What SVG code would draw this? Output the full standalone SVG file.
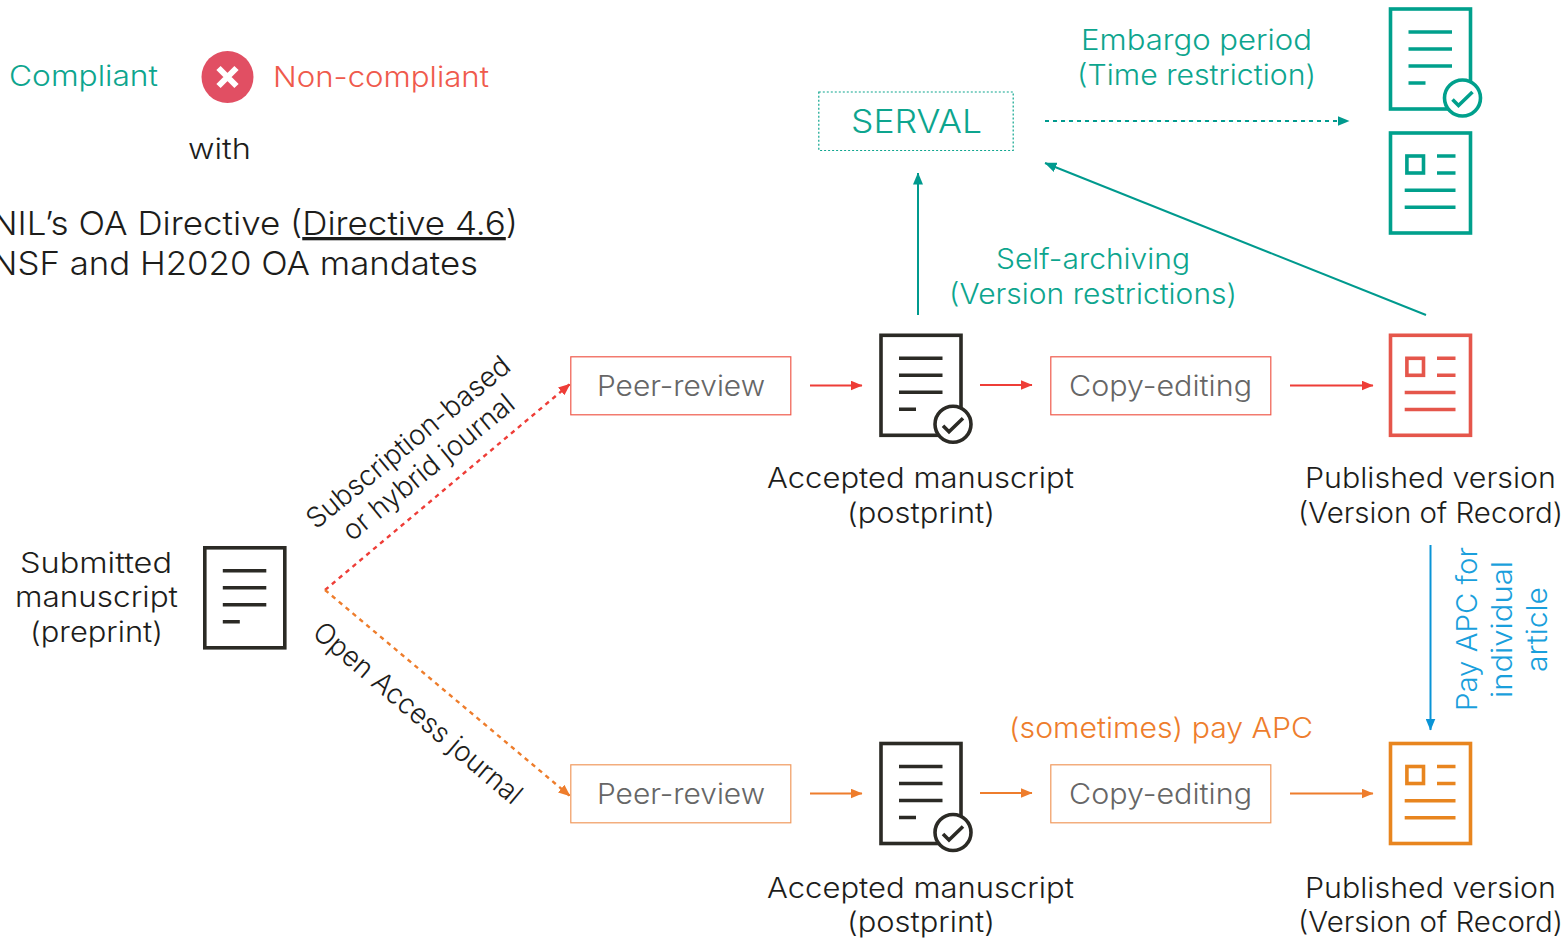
<svg xmlns="http://www.w3.org/2000/svg" width="1564" height="939" viewBox="0 0 1564 939">
<style>
text{font-family:Inter,"Open Sans","Liberation Sans",sans-serif;font-size:28px;font-weight:300;fill:#1d1d1b;text-anchor:start}
.big{font-size:33px}
.teal{fill:#0da58e}.red{fill:#ef5a4c}.orange{fill:#ee7d2c}.blue{fill:#1a9fdc}.gray{fill:#666}
.doc rect,.doc path,.doc circle{fill:none;stroke:currentColor;stroke-width:3.6}
.doc .bg{fill:#fff}
.box{fill:#fff;stroke-width:1.2}
.c{fill:none;stroke-width:2}
.d{stroke-width:2.4;stroke-dasharray:4.500 4.500}
</style>
<defs>
<g id="lines" class="doc"><rect width="80" height="100"/><path d="M18 23H61.500M18 40H61.500M18 57H61.500M18 74H35"/></g>
<g id="check" class="doc"><use href="#lines"/><circle class="bg" cx="72" cy="89" r="18"/><path d="M62 90.500L68 96.500L82 83"/></g>
<g id="article" class="doc"><rect width="80" height="100"/><rect x="16.400" y="23" width="16.600" height="17"/><path d="M46.500 23H65M46.500 40H65M14.200 57.200H65M14.200 74.200H65"/></g>
<marker id="mRed" markerUnits="userSpaceOnUse" markerWidth="12" markerHeight="10" refX="11.500" refY="5" orient="auto"><path d="M0 0L12 5L0 10z" fill="#ee3d37"/></marker>
<marker id="mOrange" markerUnits="userSpaceOnUse" markerWidth="12" markerHeight="10" refX="11.500" refY="5" orient="auto"><path d="M0 0L12 5L0 10z" fill="#ee7d2c"/></marker>
<marker id="mTeal" markerUnits="userSpaceOnUse" markerWidth="12" markerHeight="10" refX="11.500" refY="5" orient="auto"><path d="M0 0L12 5L0 10z" fill="#009a8e"/></marker>
<marker id="mBlue" markerUnits="userSpaceOnUse" markerWidth="12" markerHeight="10" refX="11.500" refY="5" orient="auto"><path d="M0 0L12 5L0 10z" fill="#0a94d6"/></marker>
</defs>

<g id="legend">
<text class="teal" x="9" y="86" textLength="149" lengthAdjust="spacingAndGlyphs">Compliant</text>
<circle cx="227.500" cy="77" r="26" fill="#e14f63"/>
<path d="M218.500 68L236.500 86M236.500 68L218.500 86" stroke="#fff" stroke-width="6" fill="none"/>
<text class="red" x="273" y="87" textLength="216" lengthAdjust="spacingAndGlyphs">Non-compliant</text>
<text x="188" y="159" textLength="63" lengthAdjust="spacingAndGlyphs">with</text>
<text class="big" x="-9" y="235" textLength="527" lengthAdjust="spacingAndGlyphs">NIL’s OA Directive (<tspan text-decoration="underline">Directive 4.6</tspan>)</text>
<text class="big" x="-9" y="275" textLength="487" lengthAdjust="spacingAndGlyphs">NSF and H2020 OA mandates</text>
</g>

<g id="connectors">
<path class="c" stroke="#ee3d37" d="M810 385.500H862" marker-end="url(#mRed)"/>
<path class="c" stroke="#ee3d37" d="M980 385H1032" marker-end="url(#mRed)"/>
<path class="c" stroke="#ee3d37" d="M1290 385.500H1373" marker-end="url(#mRed)"/>
<path class="c" stroke="#ee7d2c" d="M810 793.500H862" marker-end="url(#mOrange)"/>
<path class="c" stroke="#ee7d2c" d="M980 793H1032" marker-end="url(#mOrange)"/>
<path class="c" stroke="#ee7d2c" d="M1290 793.500H1373" marker-end="url(#mOrange)"/>
<path class="c d" stroke="#ee3d37" d="M325 590L570 384" marker-end="url(#mRed)"/>
<path class="c d" stroke="#ee7d2c" d="M325 590L570 796" marker-end="url(#mOrange)"/>
<path class="c" stroke="#009a8e" d="M918 315V173" marker-end="url(#mTeal)"/>
<path class="c" stroke="#009a8e" d="M1426 315L1045 163" marker-end="url(#mTeal)"/>
<path class="c" stroke="#009a8e" stroke-dasharray="4 4" d="M1045 121H1349" marker-end="url(#mTeal)"/>
<path class="c" stroke="#0a94d6" d="M1430.500 545V730" marker-end="url(#mBlue)"/>
</g>

<g id="submitted" color="#2b2a25">
<use href="#lines" x="204.800" y="547.800"/>
<text x="20" y="573" textLength="152" lengthAdjust="spacingAndGlyphs">Submitted</text>
<text x="15" y="607" textLength="163" lengthAdjust="spacingAndGlyphs">manuscript</text>
<text x="30" y="642" textLength="133" lengthAdjust="spacingAndGlyphs">(preprint)</text>
</g>

<g id="labels-diagonal">
<text transform="translate(316 530) rotate(-39.3)" textLength="254" lengthAdjust="spacingAndGlyphs">Subscription-based</text>
<text transform="translate(352 542) rotate(-39.3)" textLength="213" lengthAdjust="spacingAndGlyphs">or hybrid journal</text>
<text transform="translate(311 635) rotate(40.3)" textLength="264" lengthAdjust="spacingAndGlyphs">Open Access journal</text>
</g>

<g id="peer-review-red"><rect class="box" x="570.800" y="356.800" width="220" height="58" stroke="#ef5a4c"/><text class="gray" x="597" y="396" textLength="168" lengthAdjust="spacingAndGlyphs">Peer-review</text></g>
<g id="copy-editing-red"><rect class="box" x="1050.800" y="356.800" width="220" height="58" stroke="#ef5a4c"/><text class="gray" x="1069" y="396" textLength="183" lengthAdjust="spacingAndGlyphs">Copy-editing</text></g>
<g id="peer-review-orange"><rect class="box" x="570.800" y="764.800" width="220" height="58" stroke="#f09a5e"/><text class="gray" x="597" y="804" textLength="168" lengthAdjust="spacingAndGlyphs">Peer-review</text></g>
<g id="copy-editing-orange"><rect class="box" x="1050.800" y="764.800" width="220" height="58" stroke="#f09a5e"/><text class="gray" x="1069" y="804" textLength="183" lengthAdjust="spacingAndGlyphs">Copy-editing</text></g>

<g id="serval"><rect x="818.800" y="92" width="194.400" height="58.500" fill="#fff" stroke="#0da58e" stroke-width="1.200" stroke-dasharray="2 2"/><text class="teal big" x="851" y="133" textLength="131" lengthAdjust="spacingAndGlyphs">SERVAL</text></g>

<g id="accepted-red" color="#2b2a25">
<use href="#check" x="881" y="335.300"/>
<text x="767" y="488" textLength="307" lengthAdjust="spacingAndGlyphs">Accepted manuscript</text>
<text x="847" y="523" textLength="148" lengthAdjust="spacingAndGlyphs">(postprint)</text>
</g>
<g id="published-red" color="#e5564b">
<use href="#article" x="1390.500" y="335.300"/>
<text x="1305" y="488" textLength="251" lengthAdjust="spacingAndGlyphs">Published version</text>
<text x="1298" y="523" textLength="265" lengthAdjust="spacingAndGlyphs">(Version of Record)</text>
</g>
<g id="accepted-orange" color="#2b2a25">
<use href="#check" x="881" y="743.500"/>
<text x="767" y="898" textLength="307" lengthAdjust="spacingAndGlyphs">Accepted manuscript</text>
<text x="847" y="932" textLength="148" lengthAdjust="spacingAndGlyphs">(postprint)</text>
</g>
<g id="published-orange" color="#e8851f">
<use href="#article" x="1390.500" y="743.500"/>
<text x="1305" y="898" textLength="251" lengthAdjust="spacingAndGlyphs">Published version</text>
<text x="1298" y="932" textLength="265" lengthAdjust="spacingAndGlyphs">(Version of Record)</text>
</g>
<g id="postprint-teal" color="#00a08c"><use href="#check" x="1390.500" y="9"/></g>
<g id="published-teal" color="#00a08c"><use href="#article" x="1390.500" y="133"/></g>

<g id="labels">
<text class="teal" x="1081" y="50" textLength="231" lengthAdjust="spacingAndGlyphs">Embargo period</text>
<text class="teal" x="1077" y="85" textLength="239" lengthAdjust="spacingAndGlyphs">(Time restriction)</text>
<text class="teal" x="996" y="269" textLength="194" lengthAdjust="spacingAndGlyphs">Self-archiving</text>
<text class="teal" x="949" y="304" textLength="288" lengthAdjust="spacingAndGlyphs">(Version restrictions)</text>
<text class="orange" x="1009" y="738" textLength="304" lengthAdjust="spacingAndGlyphs">(sometimes) pay APC</text>
<text class="blue" transform="translate(1477 711) rotate(-90)" textLength="164" lengthAdjust="spacingAndGlyphs">Pay APC for</text>
<text class="blue" transform="translate(1512 698) rotate(-90)" textLength="137" lengthAdjust="spacingAndGlyphs">individual</text>
<text class="blue" transform="translate(1547 672) rotate(-90)" textLength="85" lengthAdjust="spacingAndGlyphs">article</text>
</g>
</svg>
